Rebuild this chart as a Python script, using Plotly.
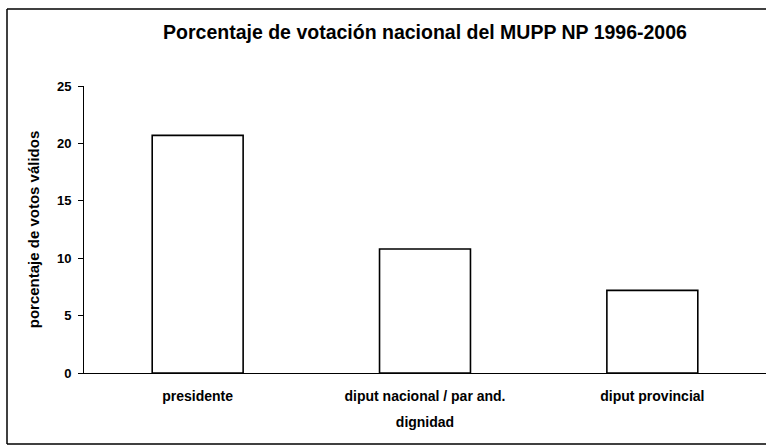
import plotly.graph_objects as go

categories = ["presidente", "diput nacional / par and.", "diput provincial"]
values = [20.7, 10.8, 7.2]
y_ticks = [0, 5, 10, 15, 20, 25]

title_text = "Porcentaje de votación nacional del MUPP NP 1996-2006"
x_title = "dignidad"
y_title = "porcentaje de votos válidos"

FONT = "Arial, Liberation Sans, sans-serif"

fig = go.Figure()
fig.add_trace(go.Bar(
    x=categories, y=values,
    marker=dict(color="white", line=dict(color="black", width=1.6)),
    width=0.4,
))

W, H = 766, 446
L, R, T, B = 84, 0, 86, 73
pw = W - L - R
ph = H - T - B

fig.update_layout(
    width=W, height=H,
    margin=dict(l=L, r=R, t=T, b=B),
    paper_bgcolor="white", plot_bgcolor="white",
    showlegend=False,
    font=dict(family=FONT, color="black", size=13),
    title=dict(text=title_text, x=0.5, xref="paper", xanchor="center",
               y=1 - 32 / H, yanchor="middle",
               font=dict(family=FONT, size=19.5, color="black", weight="bold")),
    xaxis=dict(
        showline=True, linecolor="black", linewidth=1,
        ticks="", showgrid=False, zeroline=False,
        tickfont=dict(family=FONT, size=14, weight="bold"),
        ticklabelstandoff=10,
        title=dict(text=x_title, standoff=14,
                   font=dict(family=FONT, size=14, weight="bold")),
        range=[-0.5, 2.5],
    ),
    yaxis=dict(
        range=[0, 25], tickvals=y_ticks,
        showline=True, linecolor="black", linewidth=1,
        ticks="outside", ticklen=5, tickcolor="black",
        showgrid=False, zeroline=False,
        ticklabelstandoff=4,
        tickfont=dict(family=FONT, size=13, weight="bold"),
        title=dict(text=y_title, standoff=13,
                   font=dict(family=FONT, size=15, weight="bold")),
    ),
)

# outer chart frame (Excel-style border; right edge falls outside the view)
fx0 = (7 - L) / pw
fx1 = 1.0
fy0 = (H - B - 444) / ph
fy1 = (H - B - 9) / ph
frame = dict(color="black", width=1.5)
for x0, y0, x1, y1 in [(fx0, fy1, fx1, fy1), (fx0, fy0, fx0, fy1), (fx0, fy0, fx1, fy0)]:
    fig.add_shape(type="line", xref="paper", yref="paper",
                  x0=x0, y0=y0, x1=x1, y1=y1, line=frame, layer="below")

fig.write_html("out.html", config={"displayModeBar": False},
               post_script="document.body.style.margin='0';"
                           "document.body.style.overflow='hidden';"
                           "document.documentElement.style.overflow='hidden';")
